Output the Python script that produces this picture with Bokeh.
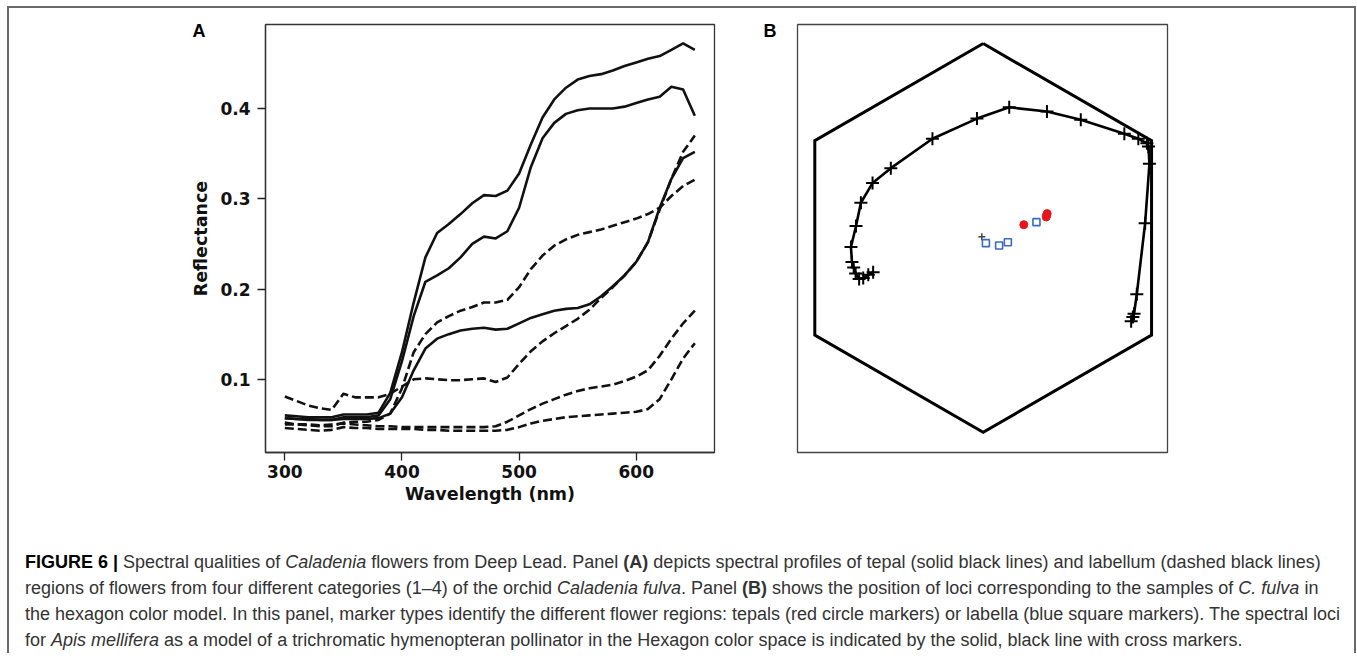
from bokeh.plotting import figure
from bokeh.models import Div, FixedTicker, Range1d, Spacer, Title
from bokeh.layouts import column, row
from bokeh.embed import file_html
from bokeh.resources import INLINE

# ---------------- Panel A data (reflectance spectra) ----------------
wavelength = list(range(300, 651, 10))

tepal_1 = [0.060, 0.059, 0.058, 0.058, 0.058, 0.061, 0.061, 0.061, 0.063, 0.085,
           0.130, 0.185, 0.235, 0.262, 0.272, 0.283, 0.295, 0.304, 0.303, 0.309,
           0.328, 0.360, 0.390, 0.410, 0.423, 0.432, 0.436, 0.438, 0.442, 0.447,
           0.451, 0.455, 0.458, 0.465, 0.472, 0.465]
tepal_2 = [0.057, 0.056, 0.056, 0.055, 0.055, 0.058, 0.058, 0.058, 0.060, 0.078,
           0.120, 0.170, 0.208, 0.215, 0.223, 0.235, 0.250, 0.258, 0.256, 0.264,
           0.290, 0.335, 0.367, 0.384, 0.394, 0.398, 0.400, 0.400, 0.400, 0.402,
           0.406, 0.410, 0.413, 0.424, 0.421, 0.392]
tepal_3 = [0.057, 0.056, 0.055, 0.055, 0.055, 0.056, 0.056, 0.056, 0.057, 0.062,
           0.080, 0.110, 0.134, 0.145, 0.150, 0.154, 0.156, 0.157, 0.155, 0.156,
           0.162, 0.168, 0.172, 0.176, 0.178, 0.179, 0.183, 0.192, 0.203, 0.215,
           0.230, 0.252, 0.290, 0.322, 0.345, 0.352]
labellum_1 = [0.050, 0.050, 0.049, 0.048, 0.048, 0.052, 0.053, 0.053, 0.055, 0.062,
              0.090, 0.130, 0.150, 0.163, 0.170, 0.176, 0.180, 0.185, 0.185, 0.188,
              0.202, 0.222, 0.237, 0.248, 0.255, 0.260, 0.263, 0.266, 0.270, 0.274,
              0.278, 0.283, 0.290, 0.303, 0.314, 0.321]
labellum_2 = [0.081, 0.076, 0.071, 0.068, 0.066, 0.084, 0.080, 0.080, 0.080, 0.084,
              0.092, 0.100, 0.101, 0.100, 0.099, 0.099, 0.100, 0.101, 0.097, 0.102,
              0.117, 0.131, 0.142, 0.151, 0.159, 0.167, 0.177, 0.190, 0.202, 0.215,
              0.230, 0.252, 0.288, 0.322, 0.352, 0.370]
labellum_3 = [0.052, 0.050, 0.050, 0.049, 0.050, 0.051, 0.050, 0.049, 0.048, 0.048,
              0.047, 0.047, 0.047, 0.047, 0.047, 0.047, 0.047, 0.047, 0.048, 0.053,
              0.060, 0.067, 0.073, 0.078, 0.083, 0.087, 0.090, 0.092, 0.094, 0.098,
              0.103, 0.110, 0.126, 0.145, 0.162, 0.176]
labellum_4 = [0.046, 0.045, 0.044, 0.043, 0.044, 0.047, 0.046, 0.046, 0.045, 0.045,
              0.045, 0.045, 0.044, 0.044, 0.043, 0.043, 0.043, 0.043, 0.043, 0.044,
              0.047, 0.051, 0.054, 0.056, 0.058, 0.059, 0.060, 0.061, 0.062, 0.063,
              0.064, 0.067, 0.078, 0.100, 0.123, 0.140]

tepals = [tepal_1, tepal_2, tepal_3]
labella = [labellum_1, labellum_2, labellum_3, labellum_4]

x_ticks = [300, 400, 500, 600]
y_ticks = [0.1, 0.2, 0.3, 0.4]
y_tick_labels = ["0.1", "0.2", "0.3", "0.4"]

# ---------------- Panel B data (hexagon colour space) ----------------
hexagon_x = [0.0, 0.866, 0.866, 0.0, -0.866, -0.866, 0.0]
hexagon_y = [1.0, 0.5, -0.5, -1.0, -0.5, 0.5, 1.0]

locus_x = [-0.566, -0.591, -0.617, -0.638, -0.656, -0.666, -0.675, -0.680, -0.654,
           -0.629, -0.569, -0.475, -0.261, -0.032, 0.134, 0.328, 0.502, 0.726,
           0.798, 0.842, 0.850, 0.855, 0.833, 0.790, 0.776, 0.770, 0.761]
locus_y = [-0.176, -0.190, -0.206, -0.211, -0.183, -0.152, -0.124, -0.047, 0.061,
           0.181, 0.282, 0.359, 0.510, 0.614, 0.672, 0.650, 0.608, 0.536,
           0.510, 0.487, 0.470, 0.381, 0.076, -0.290, -0.390, -0.407, -0.429]

background_x = [-0.007]
background_y = [0.006]

tepal_loci_x = [0.209, 0.324, 0.327, 0.329]
tepal_loci_y = [0.068, 0.108, 0.118, 0.125]
labellum_loci_x = [0.014, 0.082, 0.127, 0.274]
labellum_loci_y = [-0.027, -0.039, -0.022, 0.081]

# ---------------- Panel A ----------------
FONT = "DejaVu Sans"
pa = figure(width=736, height=541,
            x_range=Range1d(283.5, 666.8), y_range=Range1d(0.0189, 0.493),
            output_backend="svg", toolbar_location=None,
            min_border_left=256, min_border_right=31,
            min_border_top=16, min_border_bottom=97)
pa.xgrid.visible = False
pa.ygrid.visible = False
pa.outline_line_color = "#333333"
pa.outline_line_width = 1.3

for t in tepals:
    pa.line(wavelength, t, line_color="#111111", line_width=2.6, line_join="round")
for lb in labella:
    pa.line(wavelength, lb, line_color="#111111", line_width=2.6,
            line_dash="9 4", line_join="round")

for ax in (pa.xaxis[0], pa.yaxis[0]):
    ax.major_tick_in = 0
    ax.major_tick_out = 8
    ax.major_tick_line_color = "#222222"
    ax.major_tick_line_width = 1.3
    ax.minor_tick_line_color = None
    ax.axis_line_color = "#333333"
    ax.axis_line_width = 1.3
    ax.major_label_text_font = FONT
    ax.major_label_text_font_style = "bold"
    ax.major_label_text_font_size = "17px"
    ax.major_label_text_color = "#111111"
    ax.axis_label_text_font = FONT
    ax.axis_label_text_font_style = "bold"
    ax.axis_label_text_font_size = "17.5px"
    ax.axis_label_text_color = "#111111"

pa.xaxis.ticker = FixedTicker(ticks=x_ticks)
pa.yaxis.ticker = FixedTicker(ticks=y_ticks)
pa.yaxis.major_label_overrides = dict(zip(y_ticks, y_tick_labels))
pa.xaxis.axis_label = "Wavelength (nm)"
pa.yaxis.axis_label = "Reflectance"
pa.xaxis.major_label_standoff = 4
pa.yaxis.major_label_standoff = 7
pa.xaxis.axis_label_standoff = 3
pa.yaxis.axis_label_standoff = 6

pa.add_layout(Title(text="A", align="left", offset=-73, standoff=-33,
                    text_font="Liberation Sans", text_font_style="bold",
                    text_font_size="18px", text_color="#000000"), "above")

# ---------------- Panel B ----------------
pb = figure(width=609, height=541,
            x_range=Range1d(-0.955, 0.948), y_range=Range1d(-1.104, 1.098),
            output_backend="svg", toolbar_location=None,
            min_border_left=52, min_border_right=187,
            min_border_top=16, min_border_bottom=97)
pb.xgrid.visible = False
pb.ygrid.visible = False
pb.axis.visible = False
pb.outline_line_color = "#444444"
pb.outline_line_width = 1.3

pb.line(hexagon_x, hexagon_y, line_color="#000000", line_width=3, line_join="miter")
pb.line(locus_x, locus_y, line_color="#000000", line_width=2.6, line_join="round")
pb.scatter(locus_x, locus_y, marker="cross", size=13, line_color="#000000", line_width=2)
pb.scatter(background_x, background_y, marker="cross", size=7, line_color="#444444", line_width=1.5)
pb.scatter(labellum_loci_x, labellum_loci_y, marker="square", size=7,
           fill_color=None, line_color="#3a6bc4", line_width=1.6)
pb.scatter(tepal_loci_x, tepal_loci_y, marker="circle", size=8,
           fill_color="#e8141c", line_color="#e8141c", line_width=1)

pb.add_layout(Title(text="B", align="left", offset=-34, standoff=-33,
                    text_font="Liberation Sans", text_font_style="bold",
                    text_font_size="18px", text_color="#000000"), "above")

# ---------------- Caption ----------------
caption_lines = [
    "<b style='color:#000'>FIGURE 6 |</b> Spectral qualities of <i>Caladenia</i> flowers from Deep Lead. "
    "Panel <b>(A)</b> depicts spectral profiles of tepal (solid black lines) and labellum (dashed black lines)",
    "regions of flowers from four different categories (1&ndash;4) of the orchid <i>Caladenia fulva</i>. "
    "Panel <b>(B)</b> shows the position of loci corresponding to the samples of <i>C. fulva</i> in",
    "the hexagon color model. In this panel, marker types identify the different flower regions: "
    "tepals (red circle markers) or labella (blue square markers). The spectral loci",
    "for <i>Apis mellifera</i> as a model of a trichromatic hymenopteran pollinator in the Hexagon "
    "color space is indicated by the solid, black line with cross markers.",
]
caption = Div(
    text="<div style=\"font-family:'Liberation Sans',Arial,sans-serif;font-size:18px;"
         "line-height:26px;color:#333333;padding-left:16px;white-space:nowrap;\">"
         + "<br>".join(caption_lines) + "</div>",
    width=1345, height=104, margin=(0, 0, 0, 0))

# ---------------- Outer frame (thin grey strips) ----------------
FRAME = "#6a6a6a"
def strip(w, h):
    return Div(text="", width=w, height=h, margin=(0, 0, 0, 0), background=FRAME,
               styles={"background-color": FRAME})

content = column(row(pa, pb), caption)
body = row(strip(2, 645), content, strip(2, 645))
layout = column(Spacer(height=6, width=10),
                row(Spacer(width=7, height=2), strip(1349, 2)),
                row(Spacer(width=7, height=645), body))

open("out.html", "w").write(file_html(layout, INLINE))
